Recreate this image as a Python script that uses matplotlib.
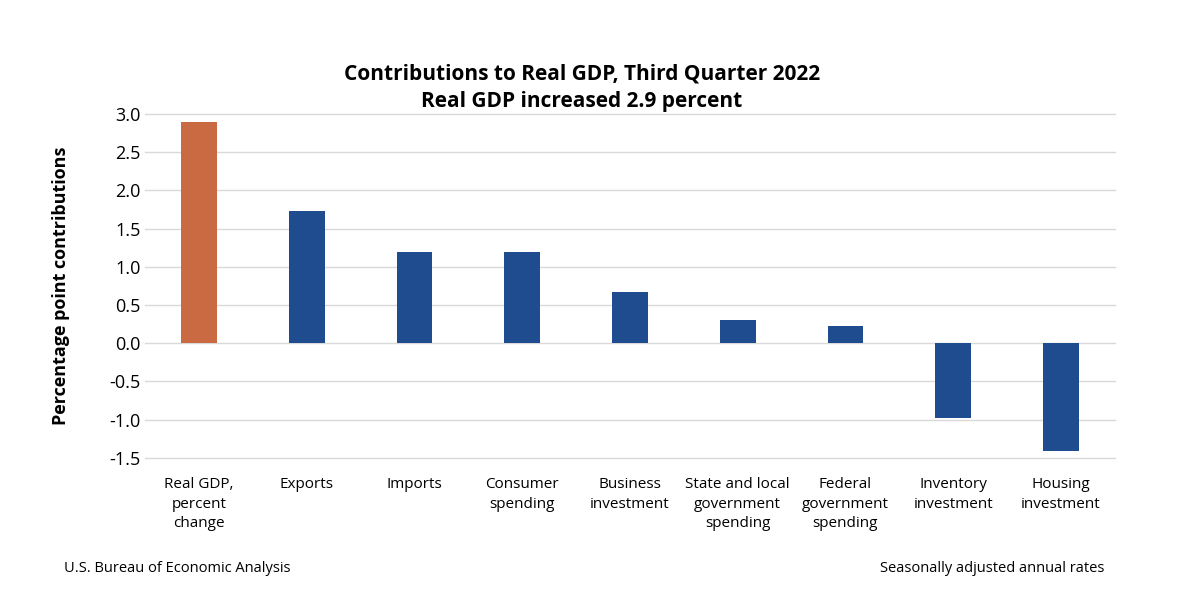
import matplotlib.pyplot as plt

plt.rcParams['font.family'] = ['Open Sans', 'DejaVu Sans']

categories = ['Real GDP,\npercent\nchange', 'Exports', 'Imports', 'Consumer\nspending',
              'Business\ninvestment', 'State and local\ngovernment\nspending',
              'Federal\ngovernment\nspending', 'Inventory\ninvestment', 'Housing\ninvestment']
values = [2.9, 1.73, 1.20, 1.19, 0.67, 0.30, 0.22, -0.98, -1.41]
colors = ['#C96A43'] + ['#1F4B8F'] * 8

fig = plt.figure(figsize=(12, 6.13), dpi=100)
ax = fig.add_axes([0.121, 0.253, 0.808, 0.561])
x = range(len(categories))
ax.bar(x, values, width=0.33, color=colors, zorder=3)
ax.set_ylim(-1.5, 3.0)
ax.set_xlim(-0.5, len(categories) - 0.5)
ax.set_yticks([3.0, 2.5, 2.0, 1.5, 1.0, 0.5, 0.0, -0.5, -1.0, -1.5])
ax.set_yticklabels([f'{v:.1f}' for v in ax.get_yticks()], fontsize=13)
ax.grid(axis='y', color='#D9D9D9', linewidth=1, zorder=0, clip_on=False)
for s in ax.spines.values():
    s.set_visible(False)
ax.tick_params(length=0)
ax.set_xticks(list(x))
ax.set_xticklabels(categories, fontsize=11, va='top', linespacing=1.4)
ax.tick_params(axis='x', pad=14)
ax.set_ylabel('Percentage point contributions', fontsize=13, fontweight='bold', labelpad=28)

fig.text(0.485, 0.87, 'Contributions to Real GDP, Third Quarter 2022', ha='center',
         fontsize=15, fontweight='bold')
fig.text(0.485, 0.825, 'Real GDP increased 2.9 percent', ha='center',
         fontsize=15, fontweight='bold')
fig.text(0.053, 0.067, 'U.S. Bureau of Economic Analysis', fontsize=10.5)
fig.text(0.92, 0.067, 'Seasonally adjusted annual rates', fontsize=10.5, ha='right')

fig.savefig('out.png', dpi=100)
